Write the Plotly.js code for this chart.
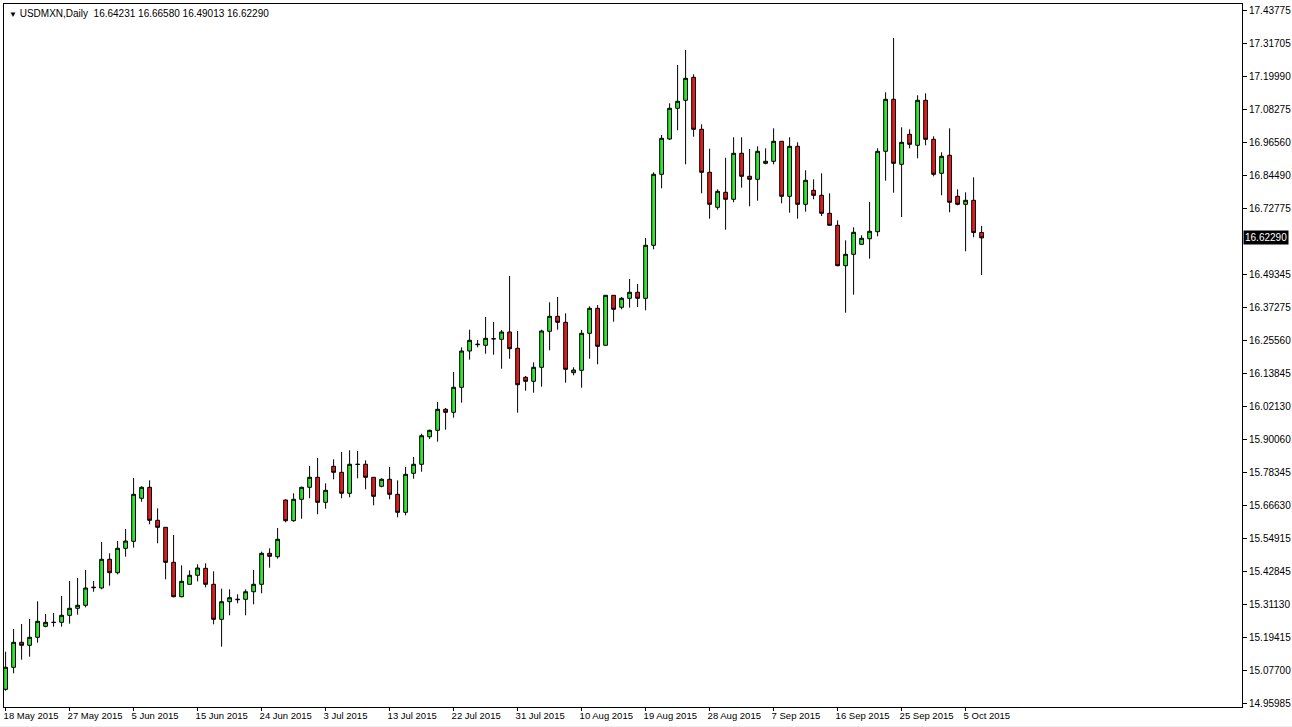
<!DOCTYPE html>
<html>
<head>
<meta charset="utf-8">
<script src="https://cdn.plot.ly/plotly-3.0.1.min.js"></script>
<style>
html,body{margin:0;padding:0;background:#ffffff;}
#chart{width:1292px;height:727px;}
</style>
</head>
<body>
<div id="chart"></div>
<script>
// ---- data (USDMXN daily, 18 May 2015 .. 7 Oct 2015, Sun-Fri bars) ----
const startDate = '2015-05-18';
const openP = [
15.0088,15.0875,15.1769,15.1662,15.1948,15.2341,15.2484,15.2484,15.2734,15.2985,
15.3092,15.3721,15.3711,15.4737,15.4258,15.5130,15.5380,15.6918,15.7311,15.6131,
15.5881,15.4629,15.3399,15.3843,15.4165,15.4415,15.3843,15.2591,15.3221,15.3292,
15.3306,15.3578,15.3843,15.4951,15.4830,15.6857,15.6117,15.6882,15.7311,15.7669,
15.6775,15.8062,15.7847,15.7097,15.8134,15.8134,15.7669,15.7347,15.7597,15.7061,
15.6417,15.7812,15.8134,15.9120,15.9349,16.0100,15.9993,16.0887,16.2185,16.2410,
16.2389,16.2624,16.2603,16.2864,16.2281,16.1244,16.1101,16.1602,16.2889,16.3425,
16.3211,16.1409,16.1495,16.2818,16.3711,16.2389,16.4176,16.3747,16.4069,16.4284,
16.4069,16.5964,16.8503,16.9765,17.0863,17.1149,17.1971,17.0112,16.8574,16.7323,
16.7859,16.7609,16.9254,16.8431,16.8324,16.8896,16.8968,16.9683,16.7716,16.9504,
16.7430,16.7931,16.7752,16.7108,16.6679,16.5235,16.5642,16.6000,16.6200,16.6450,
16.9325,17.1184,16.8860,16.9933,16.9540,17.1149,16.9754,16.8539,16.9182,16.7716,
16.7430,16.7573,16.64231];
const highP = [
15.1433,15.2245,15.2423,15.2602,15.3235,15.2781,15.2817,15.3424,15.3961,15.4068,
15.4354,15.3961,15.5355,15.4951,15.5391,15.5820,15.7644,15.7347,15.7561,15.6560,
15.5890,15.5606,15.4522,15.4343,15.4558,15.4594,15.4308,15.3686,15.3664,15.3485,
15.3664,15.4354,15.5009,15.5130,15.5856,15.6882,15.7097,15.7333,15.8073,15.8359,
15.7454,15.8312,15.8573,15.8634,15.8609,15.8277,15.7675,15.7633,15.8037,15.7561,
15.8037,15.8395,15.9228,15.9371,16.0361,16.0147,16.1434,16.2317,16.2946,16.2578,
16.3400,16.3222,16.2936,16.4866,16.2900,16.1291,16.1781,16.2946,16.3926,16.4116,
16.3533,16.1602,16.2936,16.3783,16.3829,16.4180,16.4180,16.4116,16.4759,16.4580,
16.6225,16.8574,16.9908,17.1041,17.2411,17.2947,17.2078,17.0291,16.9418,16.7966,
16.9096,16.9826,16.9826,16.9407,16.9504,16.9432,17.0148,16.9690,16.9826,16.9647,
16.8646,16.8324,16.8539,16.7823,16.6858,16.6143,16.6608,16.6322,16.7512,16.9432,
17.1435,17.3376,17.0183,17.0112,17.1328,17.1399,16.9862,16.9289,17.0148,16.7966,
16.7859,16.8395,16.66580];
const lowP = [
15.0038,15.0661,15.1147,15.1254,15.1755,15.2305,15.2327,15.2327,15.2434,15.2756,
15.3020,15.3578,15.3664,15.3793,15.4200,15.4830,15.5152,15.6796,15.5988,15.5309,
15.4022,15.3378,15.3378,15.3840,15.3950,15.3736,15.2413,15.1612,15.2734,15.3163,
15.2734,15.3128,15.3521,15.4436,15.4758,15.6060,15.6081,15.6188,15.6918,15.6346,
15.6546,15.7597,15.6918,15.6954,15.7633,15.7240,15.6668,15.7311,15.6882,15.6238,
15.6310,15.7619,15.7869,15.9038,15.8942,15.9371,15.9800,16.0336,16.1874,16.2317,
16.2088,16.2052,16.1552,16.1909,15.9979,16.0765,16.0694,16.0908,16.2210,16.2946,
16.1051,16.1316,16.0872,16.1909,16.1709,16.2385,16.3232,16.3676,16.3733,16.3758,
16.3640,16.5821,16.8002,16.9729,17.0076,16.8860,16.9847,16.7823,16.6915,16.7237,
16.6522,16.7502,16.8024,16.7359,16.7559,16.8860,16.8860,16.7466,16.7130,16.6915,
16.7166,16.7609,16.7012,16.6675,16.5213,16.3554,16.4198,16.5995,16.5485,16.6286,
16.8274,16.7845,16.6976,16.9432,16.9075,16.9540,16.8431,16.7752,16.7144,16.7394,
16.5750,16.6250,16.49013];
const closeP = [
15.0875,15.1769,15.1662,15.1948,15.2520,15.2484,15.2480,15.2734,15.2985,15.3092,
15.3711,15.3736,15.4737,15.4258,15.5130,15.5391,15.7061,15.7311,15.6131,15.5881,
15.4629,15.3399,15.3950,15.4165,15.4426,15.3843,15.2591,15.3221,15.3364,15.3306,
15.3578,15.3843,15.4951,15.4844,15.5452,15.6117,15.6882,15.7311,15.7669,15.6775,
15.7204,15.7847,15.7097,15.8134,15.8130,15.7669,15.6989,15.7597,15.7061,15.6417,
15.7776,15.8134,15.9156,15.9349,16.0100,15.9993,16.0887,16.2185,16.2567,16.2424,
16.2639,16.2620,16.2864,16.2267,16.0980,16.1101,16.1602,16.2900,16.3425,16.3211,
16.1530,16.1505,16.2818,16.3711,16.2353,16.4176,16.3676,16.4069,16.4284,16.4069,
16.5964,16.8503,16.9790,17.0863,17.1113,17.1935,17.0112,16.8574,16.7430,16.7895,
16.7609,16.9254,16.8431,16.8324,16.9325,16.8968,16.9683,16.7716,16.9504,16.7430,
16.8288,16.7752,16.7108,16.6679,16.5235,16.5642,16.6429,16.6214,16.6465,16.9325,
17.1184,16.8896,16.9647,16.9575,17.1149,16.9754,16.8503,16.9146,16.7502,16.7430,
16.7573,16.6420,16.62290];

const priceTicks = [17.43775,17.31705,17.19990,17.08275,16.96560,16.84490,16.72775,
  16.49345,16.37275,16.25560,16.13845,16.02130,15.90060,15.78345,15.66630,15.54915,
  15.42845,15.31130,15.19415,15.07700,14.95985];
const dateTickLabels = ['18 May 2015','27 May 2015','5 Jun 2015','15 Jun 2015','24 Jun 2015',
  '3 Jul 2015','13 Jul 2015','22 Jul 2015','31 Jul 2015','10 Aug 2015','19 Aug 2015',
  '28 Aug 2015','7 Sep 2015','16 Sep 2015','25 Sep 2015','5 Oct 2015'];
const symbolName = 'USDMXN,Daily';

// ---- build the trading calendar (broker shows Sunday bars, no Saturdays) ----
function fmt(d){
  const m = String(d.getUTCMonth()+1).padStart(2,'0');
  const dd = String(d.getUTCDate()).padStart(2,'0');
  return d.getUTCFullYear()+'-'+m+'-'+dd;
}
const dates = [];
{
  const d = new Date(startDate+'T00:00:00Z');
  while (dates.length < openP.length){
    if (d.getUTCDay() !== 6) dates.push(fmt(d));
    d.setUTCDate(d.getUTCDate()+1);
  }
}
const monthIdx = {Jan:0,Feb:1,Mar:2,Apr:3,May:4,Jun:5,Jul:6,Aug:7,Sep:8,Oct:9,Nov:10,Dec:11};
const dateTickVals = dateTickLabels.map(s=>{
  const [dd,mm,yy] = s.split(' ');
  return fmt(new Date(Date.UTC(+yy, monthIdx[mm], +dd)));
});

const n = openP.length;
const last = n-1;
const fontFam = '"Liberation Sans", Arial, sans-serif';

const trace = {
  type:'candlestick',
  x: dates,
  open: openP, high: highP, low: lowP, close: closeP,
  increasing:{fillcolor:'#2ee62e', line:{color:'#000000', width:1}},
  decreasing:{fillcolor:'#e01b1b', line:{color:'#000000', width:1}},
  whiskerwidth:0,
  hoverinfo:'none',
  showlegend:false
};

const W = 1292, H = 727;
const mL = 4, mR = 50, mT = 4, mB = 20;
const plotH = H - mT - mB;

const layout = {
  width: W, height: H,
  margin:{l:mL, r:mR, t:mT, b:mB, pad:0},
  paper_bgcolor:'#ffffff',
  plot_bgcolor:'#ffffff',
  showlegend:false,
  boxgap:0.32,
  font:{family:fontFam, size:10, color:'#000000'},
  xaxis:{
    type:'category',
    range:[-0.2, -0.2 + (W-mL-mR)/8],
    tickvals: dateTickVals,
    ticktext: dateTickLabels,
    tickangle:0,
    automargin:false,
    ticklabelposition:'outside right',
    ticklabelshift:-3,
    ticks:'outside', ticklen:3, tickcolor:'#000000', tickwidth:1,
    tickfont:{family:fontFam, size:9.5, color:'#000000'},
    showgrid:false, zeroline:false,
    showline:true, mirror:true, linecolor:'#000000', linewidth:1,
    rangeslider:{visible:false},
    fixedrange:true
  },
  yaxis:{
    side:'right',
    automargin:false,
    range:[14.9456, 17.4592],
    tickvals: priceTicks,
    ticktext: priceTicks.map(v=>v.toFixed(5)),
    ticks:'outside', ticklen:4, tickcolor:'#000000', tickwidth:1,
    tickfont:{family:fontFam, size:10, color:'#000000'},
    showgrid:false, zeroline:false,
    showline:true, mirror:true, linecolor:'#000000', linewidth:1,
    fixedrange:true
  },
  annotations:[
    {
      xref:'paper', yref:'paper', x:0, y:1, xanchor:'left', yanchor:'top',
      xshift:3, yshift:-2,
      text:'<span style="font-size:8px">▼</span> '+symbolName+'  '+
        [openP[last],highP[last],lowP[last],closeP[last]].map(v=>v.toFixed(5)).join(' '),
      showarrow:false,
      font:{family:fontFam, size:10, color:'#000000'}
    },
    {
      xref:'paper', yref:'y', x:1, y:closeP[last], xanchor:'left', yanchor:'middle',
      xshift:1,
      text:closeP[last].toFixed(5),
      showarrow:false,
      bgcolor:'#000000', borderpad:1,
      font:{family:fontFam, size:10, color:'#ffffff'}
    }
  ],
  shapes:[
    {type:'rect', xref:'paper', yref:'paper', x0:-0.01, x1:1.05,
     y0:-(mB-1)/plotH, y1:-(mB+2)/plotH, fillcolor:'#f0f0f0', line:{width:0}, layer:'below'}
  ]
};

Plotly.newPlot('chart', [trace], layout, {staticPlot:true, displayModeBar:false});
</script>
</body>
</html>
